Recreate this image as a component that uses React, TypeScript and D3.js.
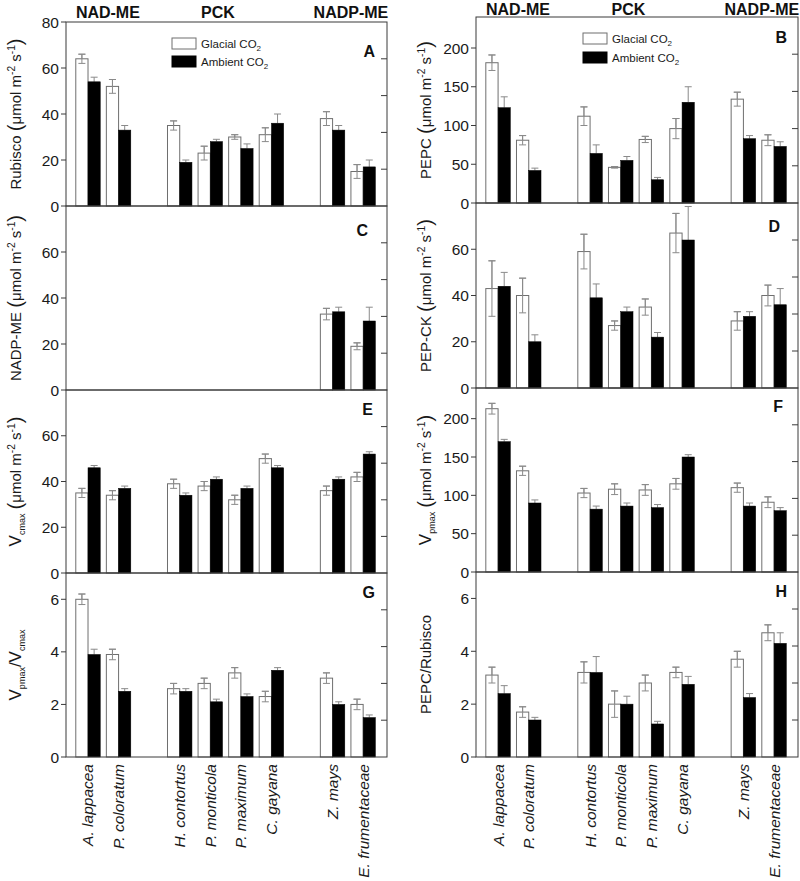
import React from "react";
import * as d3 from "d3";

const species = ["A. lappacea", "P. coloratum", "H. contortus", "P. monticola", "P. maximum", "C. gayana", "Z. mays", "E. frumentaceae"];
const slots = [0, 1, 3, 4, 5, 6, 8, 9];
const groupNames = ["NAD-ME", "PCK", "NADP-ME"];
const groupPos = [0.65, 4.25, 8.6];
const seriesNames = ["Glacial CO2", "Ambient CO2"];

const rubiscoG = [64, 52, 35, 23, 30, 31, 38, 15];
const rubiscoGErr = [2, 3, 2, 3, 1, 3, 3, 3];
const rubiscoA = [54, 33, 19, 28, 25, 36, 33, 17];
const rubiscoAErr = [2, 2, 1, 1, 2, 4, 2, 3];

const pepcG = [181, 81, 112, 46, 82, 96, 134, 81];
const pepcGErr = [10, 6, 12, 1, 4, 13, 9, 7];
const pepcA = [123, 42, 64, 55, 30, 130, 83, 73];
const pepcAErr = [14, 3, 11, 5, 3, 20, 4, 6];

const nadpmeG = [null, null, null, null, null, null, 33, 19];
const nadpmeGErr = [0, 0, 0, 0, 0, 0, 2.5, 1.5];
const nadpmeA = [null, null, null, null, null, null, 34, 30];
const nadpmeAErr = [0, 0, 0, 0, 0, 0, 2, 6];

const pepckG = [43, 40, 59, 27, 35, 67, 29, 40];
const pepckGErr = [12, 7.5, 7.5, 2, 3.5, 8.5, 4, 4.5];
const pepckA = [44, 20, 39, 33, 22, 64, 31, 36];
const pepckAErr = [6, 3, 6, 2, 2, 14.5, 2, 7];

const vcmaxG = [35, 34, 39, 38, 32, 50, 36, 42];
const vcmaxGErr = [2, 2, 2, 2, 2, 2, 2, 2];
const vcmaxA = [46, 37, 34, 41, 37, 46, 41, 52];
const vcmaxAErr = [1, 1, 1, 1, 1, 1, 1, 1];

const vpmaxG = [213, 132, 103, 108, 107, 115, 110, 91];
const vpmaxGErr = [7, 6, 6, 7, 7, 7, 6, 7];
const vpmaxA = [170, 90, 82, 86, 84, 150, 86, 80];
const vpmaxAErr = [3, 4, 4, 4, 4, 3, 4, 4];

const ratioVG = [6.0, 3.9, 2.6, 2.8, 3.2, 2.3, 3.0, 2.0];
const ratioVGErr = [0.2, 0.2, 0.2, 0.2, 0.2, 0.2, 0.2, 0.2];
const ratioVA = [3.9, 2.5, 2.5, 2.1, 2.3, 3.3, 2.0, 1.5];
const ratioVAErr = [0.2, 0.1, 0.1, 0.1, 0.1, 0.1, 0.1, 0.1];

const ratioPRG = [3.1, 1.7, 3.2, 2.0, 2.8, 3.2, 3.7, 4.7];
const ratioPRGErr = [0.3, 0.2, 0.4, 0.5, 0.3, 0.2, 0.3, 0.3];
const ratioPRA = [2.4, 1.4, 3.2, 2.0, 1.25, 2.75, 2.25, 4.3];
const ratioPRAErr = [0.3, 0.1, 0.6, 0.3, 0.1, 0.3, 0.15, 0.4];

const FONT = "'Liberation Sans', Arial, Helvetica, sans-serif";

type Part = { t: string; size?: number; shift?: number };

const unitParts = (base: number): Part[] => [
  { t: " " },
  { t: "(", size: base * 1.35, shift: 1 },
  { t: "μmol m" },
  { t: "-2", size: base * 0.68, shift: -6 },
  { t: " s" },
  { t: "-1", size: base * 0.68, shift: -6 },
  { t: ")", size: base * 1.35, shift: 1 },
];

const LBL = 15;

const panels = [
  { id: "A", col: 0, row: 0, g: rubiscoG, ge: rubiscoGErr, a: rubiscoA, ae: rubiscoAErr, max: 80, ticks: [0, 20, 40, 60, 80],
    label: [{ t: "Rubisco" }, ...unitParts(LBL)], letterDx: 12, letterDy: 35, legend: true },
  { id: "B", col: 1, row: 0, g: pepcG, ge: pepcGErr, a: pepcA, ae: pepcAErr, max: 240, ticks: [0, 50, 100, 150, 200],
    label: [{ t: "PEPC" }, ...unitParts(LBL)], letterDx: 11, letterDy: 26, legend: true },
  { id: "C", col: 0, row: 1, g: nadpmeG, ge: nadpmeGErr, a: nadpmeA, ae: nadpmeAErr, max: 80, ticks: [0, 20, 40, 60],
    label: [{ t: "NADP-ME" }, ...unitParts(LBL)], letterDx: 19, letterDy: 30 },
  { id: "D", col: 1, row: 1, g: pepckG, ge: pepckGErr, a: pepckA, ae: pepckAErr, max: 80, ticks: [0, 20, 40, 60],
    label: [{ t: "PEP-CK" }, ...unitParts(LBL)], letterDx: 18, letterDy: 29 },
  { id: "E", col: 0, row: 2, g: vcmaxG, ge: vcmaxGErr, a: vcmaxA, ae: vcmaxAErr, max: 80, ticks: [0, 20, 40, 60],
    label: [{ t: "V", size: 17 }, { t: "cmax", size: 9, shift: 4 }, ...unitParts(LBL)], letterDx: 14, letterDy: 25 },
  { id: "F", col: 1, row: 2, g: vpmaxG, ge: vpmaxGErr, a: vpmaxA, ae: vpmaxAErr, max: 240, ticks: [0, 50, 100, 150, 200],
    label: [{ t: "V", size: 17 }, { t: "pmax", size: 9, shift: 4 }, ...unitParts(LBL)], letterDx: 15, letterDy: 24 },
  { id: "G", col: 0, row: 3, g: ratioVG, ge: ratioVGErr, a: ratioVA, ae: ratioVAErr, max: 7, ticks: [0, 2, 4, 6],
    label: [{ t: "V", size: 17 }, { t: "pmax", size: 9, shift: 4 }, { t: "/V", size: 17 }, { t: "cmax", size: 9, shift: 4 }], letterDx: 12, letterDy: 25 },
  { id: "H", col: 1, row: 3, g: ratioPRG, ge: ratioPRGErr, a: ratioPRA, ae: ratioPRAErr, max: 7, ticks: [0, 2, 4, 6],
    label: [{ t: "PEPC/Rubisco" }], letterDx: 11, letterDy: 25 },
];

const cols = [
  { x0: 66, x1: 387, tops: [22, 206, 390, 573], labelX: 21, headerY: 18 },
  { x0: 476, x1: 798, tops: [17, 203, 388, 572], labelX: 431, headerY: 15 },
];
const BOTTOM = 757;

function RotLabel({ x, y, parts }: { x: number; y: number; parts: Part[] }) {
  let cur = 0;
  return (
    <text transform={`translate(${x},${y}) rotate(-90)`} textAnchor="middle" fontFamily={FONT} fontSize={LBL} fill="#1a1a1a">
      {parts.map((p, i) => {
        const target = p.shift || 0;
        const dy = target - cur;
        cur = target;
        return (
          <tspan key={i} dy={dy} fontSize={p.size || LBL}>
            {p.t}
          </tspan>
        );
      })}
    </text>
  );
}

function Panel({ p }: { p: any }) {
  const c = cols[p.col];
  const top = c.tops[p.row];
  const bottom = p.row < 3 ? c.tops[p.row + 1] : BOTTOM;
  const x = d3.scaleLinear().domain([-0.72, 9.78]).range([c.x0, c.x1]);
  const y = d3.scaleLinear().domain([0, p.max]).range([bottom, top]);
  const bw = x(0.4) - x(0);
  const frame = "#3a3a3a";
  const errCol = "#8a8a8a";
  const bars: any[] = [];
  species.forEach((s, i) => {
    const cx = x(slots[i]);
    const g = p.g[i];
    const a = p.a[i];
    if (g != null) {
      bars.push(
        <g key={"g" + i}>
          <line x1={cx - bw / 2} x2={cx - bw / 2} y1={y(g)} y2={y(g + p.ge[i])} stroke={errCol} strokeWidth={1} />
          <line x1={cx - bw / 2 - 3.5} x2={cx - bw / 2 + 3.5} y1={y(g + p.ge[i])} y2={y(g + p.ge[i])} stroke={errCol} strokeWidth={1} />
          <line x1={cx - bw / 2 - 3.5} x2={cx - bw / 2 + 3.5} y1={y(g - p.ge[i])} y2={y(g - p.ge[i])} stroke={errCol} strokeWidth={1} />
          <line x1={cx - bw / 2} x2={cx - bw / 2} y1={y(g)} y2={y(g - p.ge[i])} stroke={errCol} strokeWidth={1} />
          <rect x={cx - bw} y={y(g)} width={bw} height={bottom - y(g)} fill="white" stroke="#6f6f6f" strokeWidth={1} />
        </g>
      );
    }
    if (a != null) {
      bars.push(
        <g key={"a" + i}>
          <line x1={cx + bw / 2} x2={cx + bw / 2} y1={y(a)} y2={y(a + p.ae[i])} stroke={errCol} strokeWidth={1} />
          <line x1={cx + bw / 2 - 3.5} x2={cx + bw / 2 + 3.5} y1={y(a + p.ae[i])} y2={y(a + p.ae[i])} stroke={errCol} strokeWidth={1} />
          <rect x={cx} y={y(a)} width={bw} height={bottom - y(a)} fill="#000" stroke="#000" strokeWidth={0.5} />
        </g>
      );
    }
  });
  // glacial error bars below top drawn over white bars
  const gErrOverlay = species.map((s, i) => {
    const g = p.g[i];
    if (g == null) return null;
    const cx = x(slots[i]) - bw / 2;
    return (
      <g key={"ge" + i}>
        <line x1={cx} x2={cx} y1={y(g + p.ge[i])} y2={y(g - p.ge[i])} stroke={errCol} strokeWidth={1} />
        <line x1={cx - 3.5} x2={cx + 3.5} y1={y(g + p.ge[i])} y2={y(g + p.ge[i])} stroke={errCol} strokeWidth={1} />
        <line x1={cx - 3.5} x2={cx + 3.5} y1={y(g - p.ge[i])} y2={y(g - p.ge[i])} stroke={errCol} strokeWidth={1} />
      </g>
    );
  });
  const h = bottom - top;
  return (
    <g>
      {bars}
      {gErrOverlay}
      <rect x={c.x0} y={top} width={c.x1 - c.x0} height={h} fill="none" stroke={frame} strokeWidth={1} />
      {[1, 2, 3, 4].map((k) => (
        <line key={k} x1={c.x1 - 6} x2={c.x1} y1={bottom - (h * k) / 5} y2={bottom - (h * k) / 5} stroke={frame} strokeWidth={1} />
      ))}
      {p.ticks.map((t: number) => (
        <g key={t}>
          <line x1={c.x0 - 5} x2={c.x0} y1={y(t)} y2={y(t)} stroke={frame} strokeWidth={1} />
          <text x={c.x0 - 7} y={y(t)} dy="0.36em" textAnchor="end" fontFamily={FONT} fontSize={15.5} fill="#1a1a1a">
            {t}
          </text>
        </g>
      ))}
      <text x={c.x1 - p.letterDx} y={top + p.letterDy} textAnchor="end" fontFamily={FONT} fontSize={16} fontWeight="bold" fill="#111">
        {p.id}
      </text>
      <RotLabel x={c.labelX} y={(top + bottom) / 2} parts={p.label} />
      {p.legend &&
        seriesNames.map((n, k) => {
          const lx = p.col === 0 ? 172 : 583;
          const ly = p.col === 0 ? 38 + k * 18 : 33 + k * 19;
          return (
            <g key={n}>
              <rect x={lx} y={ly} width={24} height={11} fill={k === 0 ? "white" : "#000"} stroke={k === 0 ? "#6f6f6f" : "#000"} strokeWidth={1} />
              <text x={lx + 29} y={ly + 10} fontFamily={FONT} fontSize={11.5} fill="#1a1a1a">
                {n.replace("2", "")}
                <tspan fontSize={8} dy={3}>2</tspan>
              </text>
            </g>
          );
        })}
      {p.row === 0 &&
        groupNames.map((gn, k) => (
          <text key={gn} x={x(groupPos[k])} y={c.headerY} textAnchor="middle" fontFamily={FONT} fontSize={16} fontWeight="bold" fill="#111">
            {gn}
          </text>
        ))}
      {p.row === 3 &&
        species.map((s, i) => (
          <text
            key={s}
            transform={`translate(${x(slots[i])},764) rotate(-90)`}
            dy="0.35em"
            textAnchor="end"
            fontFamily={FONT}
            fontSize={15.5}
            fontStyle="italic"
            fill="#1a1a1a"
          >
            {s}
          </text>
        ))}
    </g>
  );
}

export default function App() {
  return (
    <svg width={800} height={881} style={{ position: "absolute", left: 0, top: 0, background: "white" }}>
      <rect x={0} y={0} width={800} height={881} fill="white" />
      {panels.map((p) => (
        <Panel key={p.id} p={p} />
      ))}
    </svg>
  );
}
